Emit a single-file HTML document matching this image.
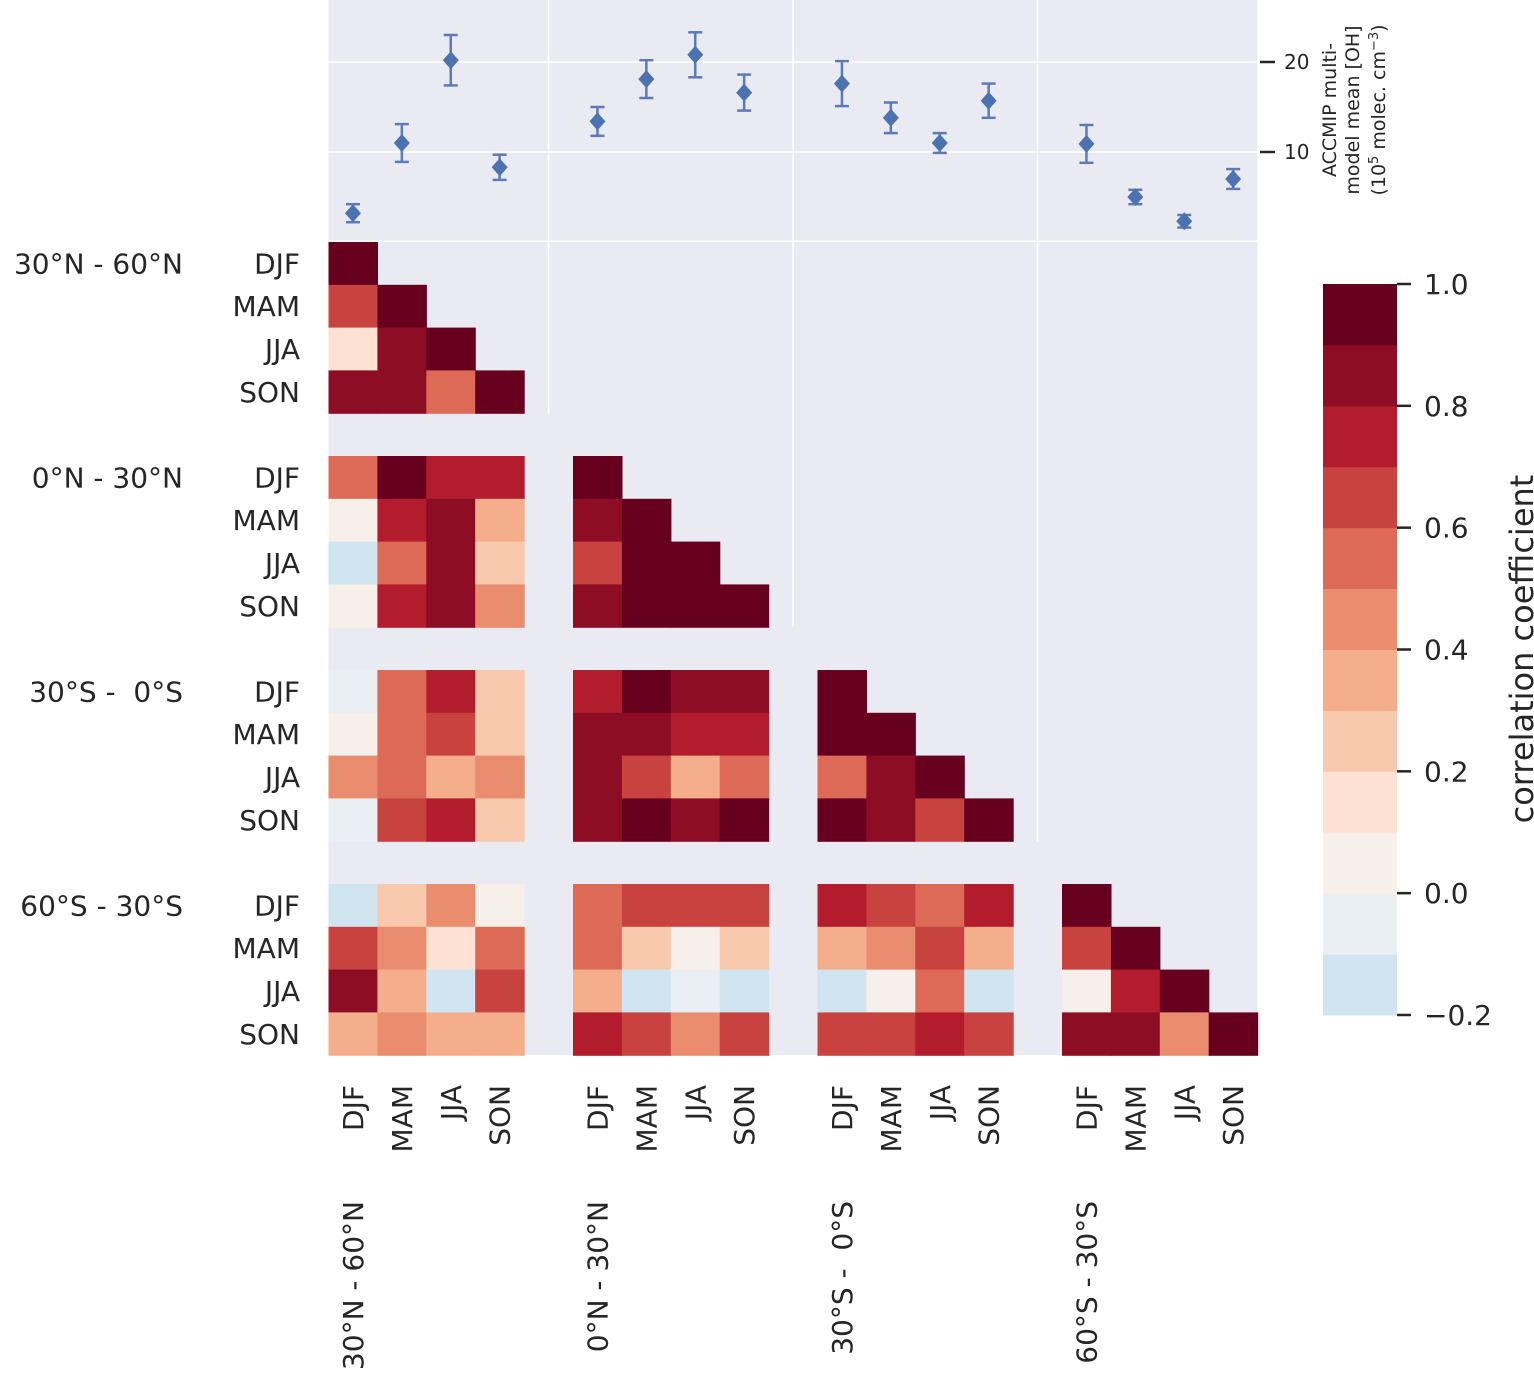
<!DOCTYPE html>
<html><head><meta charset="utf-8"><style>
body{margin:0;background:#fff;}
svg text{font-family:"DejaVu Sans","Liberation Sans",sans-serif;fill:#262626;white-space:pre;}
</style></head><body>
<svg id="chart" width="1534" height="1385" viewBox="0 0 1534 1385" xmlns="http://www.w3.org/2000/svg">
<g id="topg"></g>
<g id="heat"></g>
<g id="cbar"></g>
</svg>
<script>
const regions = ["30°N - 60°N","0°N - 30°N","30°S -  0°S","60°S - 30°S"];
const regionsBottom = ["30°N - 60°N","0°N - 30°N","30°S -  0°S","60°S - 30°S"];
const seasons = ["DJF","MAM","JJA","SON"];
const ohMean = [3.2,11.0,20.2,8.3, 13.4,18.1,20.8,16.6, 17.6,13.8,11.0,15.7, 10.9,5.0,2.3,7.0];
const ohErr  = [1.0,2.1,2.8,1.4, 1.6,2.1,2.5,2.0, 2.5,1.7,1.1,1.9, 2.1,0.8,0.7,1.1];
const ohTicks = [10,20];
const cbTicks = [-0.2,0,0.2,0.4,0.6,0.8,1.0];
const binColors = ["#d1e5f0","#eaeff3","#f7efea","#fde2d4","#f9c9ae","#f4ae8c","#ea8d6f","#dc6a56","#c8433f","#b31c2d","#8c0d24","#67001f"];
const corrRows = [
 [[1.0]],
 [[0.65,0.95]],
 [[0.15,0.85,0.95]],
 [[0.85,0.85,0.55,0.95]],
 [[0.55,0.95,0.75,0.75],[0.95]],
 [[0.05,0.75,0.85,0.35],[0.85,0.95]],
 [[-0.15,0.55,0.85,0.25],[0.65,0.95,0.95]],
 [[0.05,0.75,0.85,0.45],[0.85,0.95,0.95,0.95]],
 [[-0.05,0.55,0.75,0.25],[0.75,0.95,0.85,0.85],[0.95]],
 [[0.05,0.55,0.65,0.25],[0.85,0.85,0.75,0.75],[0.95,0.95]],
 [[0.45,0.55,0.35,0.45],[0.85,0.65,0.35,0.55],[0.55,0.85,0.95]],
 [[-0.05,0.65,0.75,0.25],[0.85,0.95,0.85,0.95],[0.95,0.85,0.65,0.95]],
 [[-0.15,0.25,0.45,0.05],[0.55,0.65,0.65,0.65],[0.75,0.65,0.55,0.75],[0.95]],
 [[0.65,0.45,0.15,0.55],[0.55,0.25,0.05,0.25],[0.35,0.45,0.65,0.35],[0.65,0.95]],
 [[0.85,0.35,-0.15,0.65],[0.35,-0.15,-0.05,-0.15],[-0.15,0.05,0.55,-0.15],[0.05,0.75,0.95]],
 [[0.35,0.45,0.35,0.35],[0.75,0.65,0.45,0.65],[0.65,0.65,0.75,0.65],[0.85,0.85,0.45,0.95]]
];
const NS="http://www.w3.org/2000/svg";
function mk(p,t,a,txt){const e=document.createElementNS(NS,t);for(const k in a)e.setAttribute(k,a[k]);if(txt!==undefined)e.textContent=txt;p.appendChild(e);return e;}
const X0=328.5, CW=48.9, Y0=242, RH=42.8;
const colX=i=>X0+(Math.floor(i/4)*5+i%4)*CW;
const rowY=i=>Y0+(Math.floor(i/4)*5+i%4)*RH;
const ohY=v=>242-v*9;
const cbY=v=>284+(1.0-v)/1.2*731;
const colorFor=v=>binColors[Math.max(0,Math.min(11,Math.floor((v+0.2)/0.1+1e-6)))];

// top panel
const topPanel=document.getElementById('topg');
let r=mk(topPanel,'rect',{x:X0,y:0,width:929,height:241,fill:'#eaeaf2'});


[4,9,14].forEach(k=>{const x=X0+(k+0.5)*CW;
 let l=mk(topPanel,'line',{x1:x,x2:x,y1:0,y2:241,stroke:'#fff','stroke-width':1.5});
 
 });
ohTicks.forEach(t=>{
 let l=mk(topPanel,'line',{x1:X0,x2:X0+929,y1:ohY(t),y2:ohY(t),stroke:'#fff','stroke-width':1.5});
 
 
 let tk=mk(topPanel,'line',{x1:1260,x2:1275,y1:ohY(t),y2:ohY(t),stroke:'#262626','stroke-width':2.5});
 
 
 let tx=mk(topPanel,'text',{x:1284,y:ohY(t)+7,'font-size':20},String(t));
 
 
});
mk(topPanel,'line',{x1:X0,x2:X0+929,y1:241.5,y2:241.5,stroke:'#fff','stroke-width':2});
ohMean.forEach((v,i)=>{
 const cx=colX(i)+CW/2, y1=ohY(v-ohErr[i]), y2=ohY(v+ohErr[i]);
 const g=mk(topPanel,'g',{});
 
 
 mk(g,'line',{x1:cx,x2:cx,y1:y1,y2:y2,stroke:'#5d7ab8','stroke-width':2.5});
 mk(g,'line',{x1:cx-7,x2:cx+7,y1:y1,y2:y1,stroke:'#5d7ab8','stroke-width':2.5});
 mk(g,'line',{x1:cx-7,x2:cx+7,y1:y2,y2:y2,stroke:'#5d7ab8','stroke-width':2.5});
 const y=ohY(v);
 mk(g,'polygon',{points:`${cx},${y-9} ${cx+8},${y} ${cx},${y+9} ${cx-8},${y}`,fill:'#4c72b0'});
});
let yl=mk(topPanel,'text',{transform:'translate(1336,110) rotate(-90)','text-anchor':'middle','font-size':19},'ACCMIP multi-');


mk(topPanel,'text',{transform:'translate(1359,110) rotate(-90)','text-anchor':'middle','font-size':19},'model mean [OH]');
const t3=mk(topPanel,'text',{transform:'translate(1385,110) rotate(-90)','text-anchor':'middle','font-size':19});
mk(t3,'tspan',{},'(10');
mk(t3,'tspan',{dy:-7,'font-size':13},'5');
mk(t3,'tspan',{dy:7},' molec. cm');
mk(t3,'tspan',{dy:-7,'font-size':13},'−3');
mk(t3,'tspan',{dy:7},')');

// heatmap
const heat=document.getElementById('heat');
r=mk(heat,'rect',{x:X0,y:Y0,width:929,height:813,fill:'#eaeaf2'});


[4,9,14].forEach((k,j)=>{const x=X0+(k+0.5)*CW;
 let l=mk(heat,'line',{x1:x,x2:x,y1:Y0,y2:rowY(j*4+3)+RH,stroke:'#fff','stroke-width':1.5});
 
 });
corrRows.forEach((blocks,ri)=>{
 blocks.forEach((vals,b)=>{
  vals.forEach((v,s)=>{
   const ci=b*4+s;
   const c=mk(heat,'rect',{x:colX(ci),y:rowY(ri),width:CW+0.6,height:RH+0.6,fill:colorFor(v)});
   
   
  });
 });
});
for(let i=0;i<16;i++){
 let t=mk(heat,'text',{x:300,y:rowY(i)+RH/2+10,'text-anchor':'end','font-size':28},seasons[i%4]);
 
 
 const cx=colX(i)+CW/2+10;
 t=mk(heat,'text',{transform:`translate(${cx},1085) rotate(-90)`,'text-anchor':'end','font-size':28},seasons[i%4]);
 
 
}
for(let b=0;b<4;b++){
 let t=mk(heat,'text',{x:183,y:rowY(b*4)+RH/2+10,'text-anchor':'end','font-size':28},regions[b]);
 
 
 const cx=colX(b*4)+CW/2+10;
 t=mk(heat,'text',{transform:`translate(${cx},1201) rotate(-90)`,'text-anchor':'end','font-size':28},regionsBottom[b]);
 
 
}

// colorbar
const cb=document.getElementById('cbar');
binColors.forEach((c,i)=>{
 const lo=-0.2+i*0.1;
 const rr=mk(cb,'rect',{x:1323,y:cbY(lo+0.1),width:74,height:cbY(lo)-cbY(lo+0.1)+0.5,fill:c});
 
 
});
cbTicks.forEach(t=>{
 let l=mk(cb,'line',{x1:1397,x2:1411,y1:cbY(t),y2:cbY(t),stroke:'#262626','stroke-width':2.5});
 
 
 const lab=t<0?'−'+Math.abs(t).toFixed(1):t.toFixed(1);
 let tx=mk(cb,'text',{x:1424,y:cbY(t)+10,'font-size':28},lab);
 
 
});
let ct=mk(cb,'text',{transform:'translate(1533,649) rotate(-90)','text-anchor':'middle','font-size':32},'correlation coefficient');


</script>
</body></html>
